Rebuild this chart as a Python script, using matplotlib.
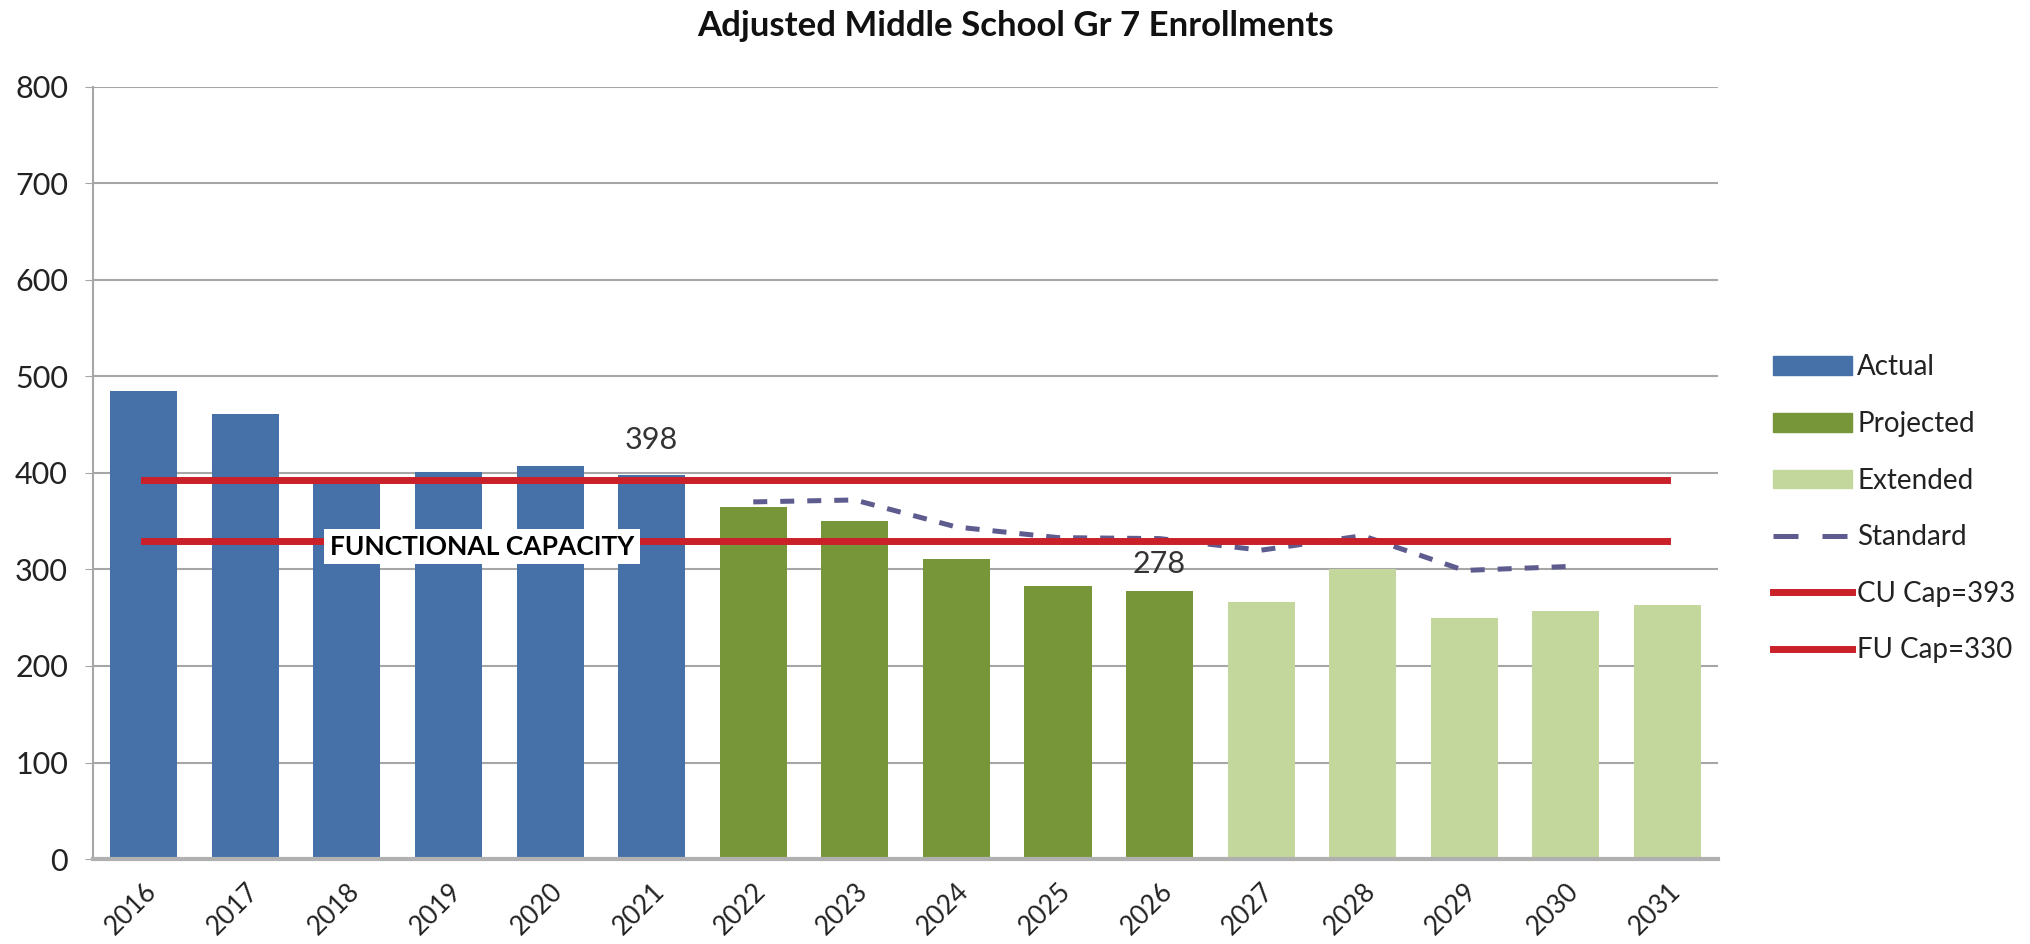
import numpy as np
from matplotlib import pyplot as plt
from matplotlib.patches import Patch
from matplotlib.lines import Line2D

plt.rcParams['font.family'] = ['Lato', 'DejaVu Sans']

years = ['2016', '2017', '2018', '2019', '2020', '2021', '2022', '2023',
         '2024', '2025', '2026', '2027', '2028', '2029', '2030', '2031']
actual = [485, 461, 392, 401, 407, 398]
projected = [365, 350, 311, 283, 278]
extended = [266, 300, 250, 257, 263]
standard = [370, 372, 344, 333, 332, 320, 335, 299, 303]  # 2022..2030
cu_cap = 393
fu_cap = 330

c_actual = '#4571A8'
c_proj = '#77963A'
c_ext = '#C3D69C'
c_std = '#5E5C8E'
c_red = '#C9202A'

fig = plt.figure(figsize=(20.31, 9.44), dpi=100)
ax = fig.add_axes([0.0458, 0.09, 0.8002, 0.818])

x = np.arange(len(years))
n_a, n_p = len(actual), len(projected)
barwidth = 0.66
ax.bar(x[:n_a], actual, width=barwidth, color=c_actual, zorder=2)
ax.bar(x[n_a:n_a + n_p], projected, width=barwidth, color=c_proj, zorder=2)
ax.bar(x[n_a + n_p:], extended, width=barwidth, color=c_ext, zorder=2)

ax.plot(x[n_a:n_a + len(standard)], standard, color=c_std, lw=3.6,
        dashes=(2.8, 2.6), zorder=3)
ax.plot([x[0], x[-1]], [cu_cap, cu_cap], color=c_red, lw=5, zorder=4)
ax.plot([x[0], x[-1]], [fu_cap, fu_cap], color=c_red, lw=5, zorder=4)

# value labels
ax.annotate('398', (x[5], actual[5]), xytext=(0, 25), textcoords='offset points',
            ha='center', va='center', fontsize=22, color='#333333')
ax.annotate('278', (x[10], projected[4]), xytext=(0, 19), textcoords='offset points',
            ha='center', va='center', fontsize=22, color='#333333')

ax.text(3.33, 323.5, 'FUNCTIONAL CAPACITY', ha='center', va='center', fontsize=19,
        fontweight='bold', color='black', zorder=5,
        bbox=dict(facecolor='white', edgecolor='none', pad=4))

ax.set_xlim(-0.5, len(years) - 0.5)
ax.set_ylim(0, 800)
ax.set_yticks(range(0, 801, 100))
ax.set_xticks(x)
ax.set_xticklabels(years, rotation=45, ha='right', rotation_mode='anchor')
ax.yaxis.grid(True, color='#A6A6A6', lw=1.5, zorder=0)
ax.set_axisbelow(True)
ax.tick_params(axis='y', labelsize=22, length=6, color='#A6A6A6', pad=12, labelcolor='#222222')
ax.tick_params(axis='x', labelsize=19, length=0, pad=14, labelcolor='#222222')
for s in ['top', 'right']:
    ax.spines[s].set_visible(False)
ax.spines['left'].set_color('#A6A6A6')
ax.spines['left'].set_linewidth(1.5)
ax.spines['bottom'].set_color('#B0B0B0')
ax.spines['bottom'].set_linewidth(3)

fig.text(0.5, 0.972, 'Adjusted Middle School Gr 7 Enrollments', ha='center', va='center',
         fontsize=25, fontweight='bold', color='#111111')

handles = [Patch(color=c_actual), Patch(color=c_proj), Patch(color=c_ext),
           Line2D([], [], color=c_std, lw=3.6, dashes=(5.0, 4.8)),
           Line2D([], [], color=c_red, lw=5), Line2D([], [], color=c_red, lw=5)]
labels = ['Actual', 'Projected', 'Extended', 'Standard', 'CU Cap=393', 'FU Cap=330']
fig.legend(handles, labels, loc='upper left', bbox_to_anchor=(0.8605, 0.651),
           frameon=False, fontsize=20, handlelength=2.85, handleheight=0.65,
           handletextpad=0.2, labelspacing=1.1, labelcolor='#222222')

plt.savefig('out.png', dpi=100)
plt.close()
